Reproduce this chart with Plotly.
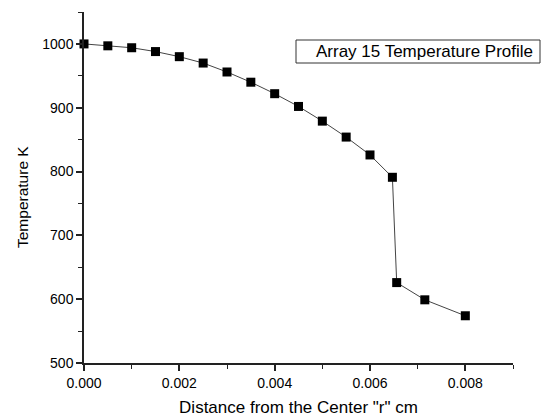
import plotly.graph_objects as go

distance_cm = [0.0, 0.0005, 0.001, 0.0015, 0.002, 0.0025, 0.003, 0.0035, 0.004,
               0.0045, 0.005, 0.0055, 0.006, 0.00647, 0.00656, 0.00715, 0.008]
temperature_k = [1000, 997, 994, 988, 980, 970, 956, 940, 922,
                 902, 879, 854, 826, 791, 626, 599, 574]
x_ticks = [0.0, 0.002, 0.004, 0.006, 0.008]
x_tick_labels = ["0.000", "0.002", "0.004", "0.006", "0.008"]
y_ticks = [500, 600, 700, 800, 900, 1000]
legend_text = "Array 15 Temperature Profile"
x_title = 'Distance from the Center "r" cm'
y_title = "Temperature K"

font = "Liberation Sans, Arial, sans-serif"
W, H = 543, 418
L, R, T, B = 84, 30, 12, 55
pw, ph = W - L - R, H - T - B

def px_x(p):
    return (p - L) / pw

def px_y(p):
    return (H - B - p) / ph

fig = go.Figure()
fig.add_trace(go.Scatter(
    x=distance_cm, y=temperature_k, mode="lines+markers",
    line=dict(color="#444444", width=1),
    marker=dict(symbol="square", size=9, color="black"),
    showlegend=False, cliponaxis=False,
))

fig.add_shape(type="rect", xref="paper", yref="paper",
              x0=px_x(296), x1=px_x(540), y0=px_y(63), y1=px_y(40),
              line=dict(color="#333333", width=1), fillcolor="white", layer="above")
fig.add_annotation(
    x=px_x(424), y=px_y(51.5), xref="paper", yref="paper",
    xanchor="center", yanchor="middle",
    text=legend_text, showarrow=False,
    font=dict(family=font, size=17, color="black"),
)
fig.add_annotation(
    x=px_x(22), y=px_y(197), xref="paper", yref="paper",
    xanchor="center", yanchor="middle", textangle=-90,
    text=y_title, showarrow=False,
    font=dict(family=font, size=15.5, color="black"),
)

fig.update_layout(
    width=W, height=H,
    margin=dict(l=L, r=R, t=T, b=B),
    paper_bgcolor="white", plot_bgcolor="white",
    font=dict(family=font, size=14, color="black"),
    xaxis=dict(
        range=[0, 0.009], tickvals=x_ticks, ticktext=x_tick_labels,
        showline=True, linecolor="#222222", linewidth=1.5,
        ticks="outside", ticklen=6, tickwidth=1.5, tickcolor="#222222",
        minor=dict(ticks="outside", dtick=0.001, tick0=0, ticklen=4, tickcolor="#222222", tickwidth=1),
        showgrid=False, zeroline=False, automargin=False,
        title=dict(text=x_title, font=dict(size=17), standoff=12),
    ),
    yaxis=dict(
        range=[500, 1050], tickvals=y_ticks,
        showline=True, linecolor="#222222", linewidth=1.5,
        ticks="outside", ticklen=6, tickwidth=1.5, tickcolor="#222222",
        minor=dict(ticks="outside", dtick=50, tick0=500, ticklen=4, tickcolor="#222222", tickwidth=1),
        showgrid=False, zeroline=False, automargin=False,
    ),
)

fig.write_html("out.html", config={"displayModeBar": False},
               post_script="document.body.style.margin='0';document.body.style.overflow='hidden';")
